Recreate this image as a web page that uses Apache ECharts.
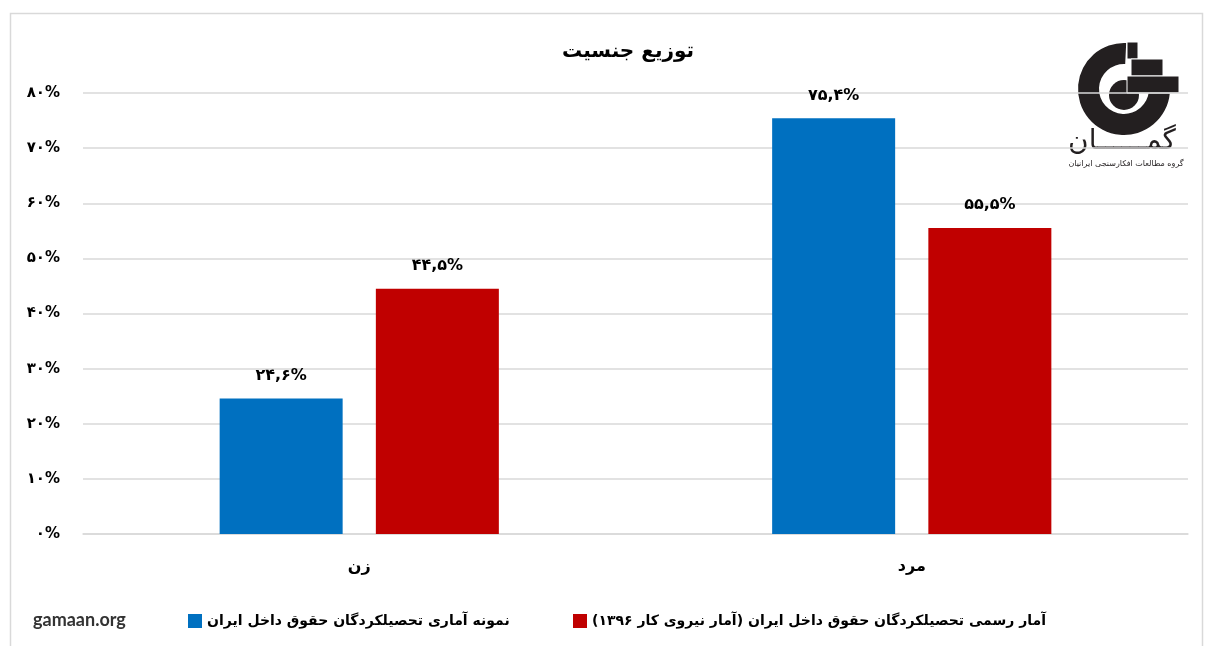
<!DOCTYPE html>
<html><head><meta charset="utf-8">
<script src="https://cdn.jsdelivr.net/npm/echarts@6/dist/echarts.min.js"></script>
<style>html,body{margin:0;padding:0;background:#fff}#c{width:1208px;height:646px}</style>
</head><body><div id="c"></div>
<script>
const titleText = 'توزیع جنسیت';
const categories = ['زن', 'مرد'];
const seriesNames = [
  'نمونه آماری تحصیلکردگان حقوق داخل ایران',
  'آمار رسمی تحصیلکردگان حقوق داخل ایران (آمار نیروی کار ۱۳۹۶)\u200F'
];
const sampleValues = [24.6, 75.4];
const officialValues = [44.5, 55.5];
const yMin = 0, yMax = 80, yStep = 10;

const FA = '۰۱۲۳۴۵۶۷۸۹';
const toFa = s => String(s).replace(/[0-9]/g, d => FA[+d]);
const pct = v => toFa(v.toFixed(1).replace('.', ',')) + '%';

const faFont = "'DejaVu Sans', sans-serif";
const chart = echarts.init(document.getElementById('c'));
chart.setOption({
  animation: false,
  backgroundColor: '#fff',
  grid: { left: 83, right: 20, top: 93, bottom: 112, containLabel: false },
  legend: [
    { data: [seriesNames[0]], left: 183, top: 609, icon: 'rect', itemWidth: 14, itemHeight: 14, itemGap: 8,
      textStyle: { fontFamily: faFont, fontWeight: 'bold', fontSize: 14, color: '#000' } },
    { data: [seriesNames[1]], left: 568, top: 609, icon: 'rect', itemWidth: 14, itemHeight: 14, itemGap: 8,
      textStyle: { fontFamily: faFont, fontWeight: 'bold', fontSize: 14, color: '#000' } }
  ],
  xAxis: {
    type: 'category', data: categories,
    axisLine: { lineStyle: { color: '#d9d9d9', width: 1.5 } },
    axisTick: { show: false },
    axisLabel: { margin: 25, fontFamily: faFont, fontWeight: 'bold', fontSize: 16, color: '#000' }
  },
  yAxis: {
    type: 'value', min: yMin, max: yMax, interval: yStep,
    axisLine: { show: false }, axisTick: { show: false },
    splitLine: { lineStyle: { color: '#d9d9d9', width: 1.5 } },
    axisLabel: { margin: 23, fontFamily: faFont, fontWeight: 'bold', fontSize: 15, color: '#000',
      formatter: v => toFa(v) + '%' }
  },
  series: [
    { name: seriesNames[0], type: 'bar', data: sampleValues, barWidth: 123, barGap: '27%',
      itemStyle: { color: '#0070c0' },
      label: { show: true, position: 'top', distance: 15, formatter: p => pct(p.value),
        fontFamily: faFont, fontWeight: 'bold', fontSize: 16, color: '#000' } },
    { name: seriesNames[1], type: 'bar', data: officialValues, barWidth: 123,
      itemStyle: { color: '#c00000' },
      label: { show: true, position: 'top', distance: 15, formatter: p => pct(p.value),
        fontFamily: faFont, fontWeight: 'bold', fontSize: 16, color: '#000' } }
  ],
  graphic: [
    { type: 'rect', silent: true, z: -1, shape: { x: 10.5, y: 13.5, width: 1192, height: 640 },
      style: { fill: 'none', stroke: '#d9d9d9', lineWidth: 1.5 } },
    { type: 'text', x: 628, y: 52,
      style: { text: titleText, font: "bold 20px 'DejaVu Sans', sans-serif", fill: '#000', align: 'center', verticalAlign: 'middle' } },
    { type: 'text', left: 33, top: 611,
      style: { text: 'gamaan.org', font: "bold 18px Lato, 'Open Sans', sans-serif", fill: '#333' } },
    // logo
    { type: 'sector', shape: { cx: 1124, cy: 89, r: 46, r0: 25, startAngle: 0.09, endAngle: 4.76, clockwise: true },
      style: { fill: '#231f20' } },
    { type: 'circle', shape: { cx: 1124, cy: 95, r: 15 }, style: { fill: '#231f20' } },
    { type: 'rect', shape: { x: 1127, y: 42, width: 11, height: 17 }, style: { fill: '#231f20', stroke: '#fff', lineWidth: 1 } },
    { type: 'rect', shape: { x: 1131, y: 59, width: 32, height: 17 }, style: { fill: '#231f20', stroke: '#fff', lineWidth: 1 } },
    { type: 'rect', shape: { x: 1127, y: 76, width: 52, height: 17 }, style: { fill: '#231f20', stroke: '#fff', lineWidth: 1 } },
    { type: 'text', x: 1122, y: 142,
      style: { text: 'گمــــــان', font: "28px 'DejaVu Sans', sans-serif", fill: '#231f20', align: 'center', verticalAlign: 'middle' } },
    { type: 'text', x: 1126, y: 164,
      style: { text: 'گروه مطالعات افکارسنجی ایرانیان', font: "8px 'DejaVu Sans', sans-serif", fill: '#231f20', align: 'center', verticalAlign: 'middle' } }
  ]
});
</script>
</body></html>
